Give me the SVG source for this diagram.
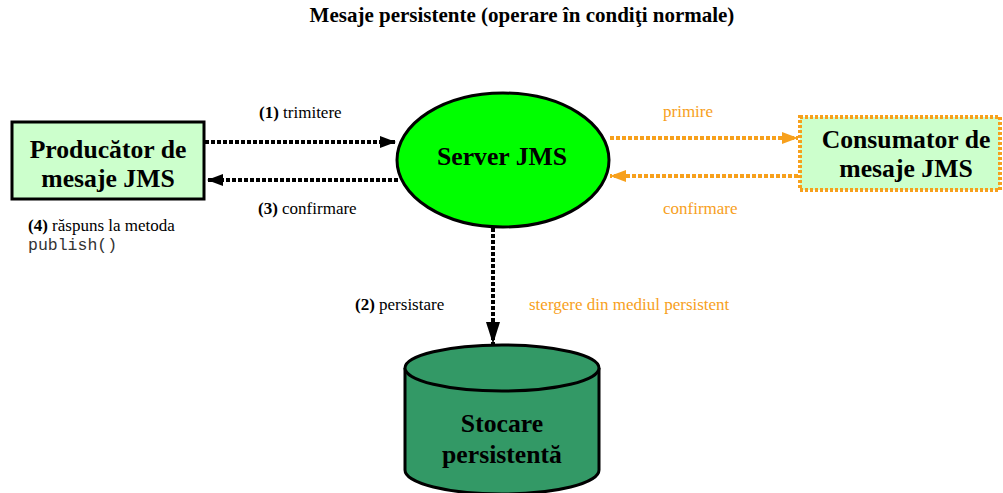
<svg xmlns="http://www.w3.org/2000/svg" width="1003" height="493" viewBox="0 0 1003 493">
  <style>
    .serif { font-family: "Liberation Serif", Tinos, "Times New Roman", Times, "DejaVu Serif", serif; }
    .node { font-weight: bold; font-size: 25.7px; fill: #000; text-anchor: middle; }
    .lbl { font-size: 17px; fill: #000; }
    .lbl-o { font-size: 17px; fill: #f7a01c; }
    .mono { font-family: "Liberation Mono", Cousine, "Courier New", monospace; font-size: 16.5px; fill: #333; }
    .title { font-weight: bold; font-size: 21px; fill: #000; text-anchor: middle; }
    .link-k { stroke: #000; stroke-width: 4; stroke-dasharray: 4 2; fill: none; }
    .link-o { stroke: #f7a01c; stroke-width: 4; stroke-dasharray: 4 2; fill: none; }
  </style>
  <defs>
    <marker id="arrK" markerWidth="16" markerHeight="12" refX="16" refY="6" orient="auto" markerUnits="userSpaceOnUse">
      <path d="M0,0 L16,6 L0,12 Z" fill="#000"/>
    </marker>
    <marker id="arrO" markerWidth="16" markerHeight="12" refX="16" refY="6" orient="auto" markerUnits="userSpaceOnUse">
      <path d="M0,0 L16,6 L0,12 Z" fill="#f7a01c"/>
    </marker>
    <marker id="arrKv" markerWidth="22" markerHeight="14" refX="22" refY="7" orient="auto" markerUnits="userSpaceOnUse">
      <path d="M0,0 L22,7 L0,14 Z" fill="#000"/>
    </marker>
  </defs>

  <rect width="1003" height="493" fill="#fff"/>

  <text class="serif title" x="522" y="22">Mesaje persistente (operare în condiţi normale)</text>

  <!-- connectors -->
  <g id="connectors">
    <line class="link-k" x1="205" y1="142" x2="396" y2="142" marker-end="url(#arrK)"/>
    <line class="link-k" x1="398" y1="180" x2="207" y2="180" marker-end="url(#arrK)"/>
    <line class="link-o" x1="610" y1="138" x2="798" y2="138" marker-end="url(#arrO)"/>
    <line class="link-o" x1="798" y1="176" x2="610" y2="176" marker-end="url(#arrO)"/>
    <line class="link-k" x1="493" y1="228" x2="493" y2="344" marker-end="url(#arrKv)"/>
  </g>

  <!-- connector labels -->
  <g id="labels" class="serif">
    <text class="lbl" x="259" y="118"><tspan font-weight="bold">(1)</tspan> trimitere</text>
    <text class="lbl" x="258" y="214"><tspan font-weight="bold">(3)</tspan> confirmare</text>
    <text class="lbl" x="28" y="231"><tspan font-weight="bold">(4)</tspan> răspuns la metoda</text>
    <text class="mono" x="28" y="250">publish()</text>
    <text class="lbl" x="355" y="310"><tspan font-weight="bold">(2)</tspan> persistare</text>
    <text class="lbl-o" x="529" y="310">stergere din mediul persistent</text>
    <text class="lbl-o" x="663" y="117">primire</text>
    <text class="lbl-o" x="663" y="214">confirmare</text>
  </g>

  <g id="producer">
    <rect x="12" y="122" width="192" height="77" fill="#ccffcc" stroke="#000" stroke-width="3"/>
    <text class="serif node" x="108" y="158">Producător de</text>
    <text class="serif node" x="108" y="187">mesaje JMS</text>
  </g>

  <g id="server">
    <ellipse cx="503" cy="160" rx="106" ry="67" fill="#00ff00" stroke="#000" stroke-width="3"/>
    <text class="serif node" x="502" y="165">Server JMS</text>
  </g>

  <g id="consumer">
    <rect x="800" y="117" width="200" height="73" fill="#ccffcc" stroke="#f7a01c" stroke-width="4" stroke-dasharray="3 2"/>
    <text class="serif node" x="906" y="148">Consumator de</text>
    <text class="serif node" x="906" y="177">mesaje JMS</text>
  </g>

  <g id="storage">
    <path d="M405,368 L405,470 A97,24 0 0 0 599,470 L599,368" fill="#339966" stroke="#000" stroke-width="3"/>
    <ellipse cx="502" cy="368" rx="97" ry="23" fill="#339966" stroke="#000" stroke-width="3"/>
    <text class="serif node" x="502" y="432">Stocare</text>
    <text class="serif node" x="502" y="463">persistentă</text>
  </g>
</svg>
